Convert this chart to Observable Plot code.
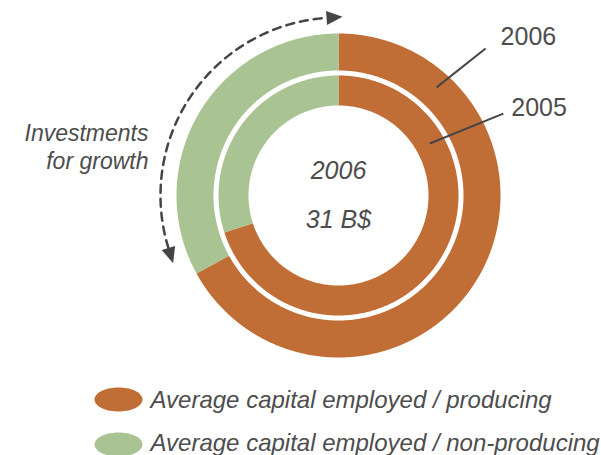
<!DOCTYPE html>
<html><head><meta charset="utf-8">
<script src="https://cdn.jsdelivr.net/npm/d3@7"></script>
<script src="https://cdn.jsdelivr.net/npm/@observablehq/plot@0.6"></script>
<style>body{margin:0;background:#fff;}</style>
</head><body><div id="chart"></div>
<script>
// ---- data ----
const years = ["2005", "2006"];
const producing = [70, 67];       // % of average capital employed
const nonProducing = [30, 33];    // %
const categories = ["Average capital employed / producing", "Average capital employed / non-producing"];
const colors = ["#C16E36", "#A9C392"];
const centerLines = ["2006", "31 B$"];
const growthLines = ["Investments", "for growth"];

// ---- layout ----
const W = 601, H = 455, cx = 338, cy = 195;
const ringRadii = {"2005": [90, 120], "2006": [125, 162]};
const rad = d => d * Math.PI / 180;
const polar = (r, t) => [cx + r * Math.sin(t), cy - r * Math.cos(t)];
const textColor = "#4d4d4d", lineColor = "#454545";

// ring slices as polygons
const ringPts = [];
years.forEach((yr, i) => {
  const [r0, r1] = ringRadii[yr];
  const shares = [producing[i], nonProducing[i]];
  const total = d3.sum(shares);
  let a = 0;
  shares.forEach((s, j) => {
    const a0 = a, a1 = a + s / total * 2 * Math.PI; a = a1;
    const n = Math.max(2, Math.ceil((a1 - a0) / rad(0.5)));
    const key = yr + "-" + j;
    for (let k = 0; k <= n; k++) { const [x, y] = polar(r1, a0 + (a1 - a0) * k / n); ringPts.push({key, cat: categories[j], x, y}); }
    for (let k = n; k >= 0; k--) { const [x, y] = polar(r0, a0 + (a1 - a0) * k / n); ringPts.push({key, cat: categories[j], x, y}); }
  });
});

// dashed "investments for growth" arc with arrowheads at both ends
const arcR = 178, headLen = 16, headHalf = 7;
const tipBottom = rad(247.7), tipTop = rad(361.3);
const baseBottom = tipBottom + headLen / arcR, baseTop = tipTop - headLen / arcR;
const arcPts = d3.range(0, 201).map(k => {
  const t = baseBottom + (baseTop - baseBottom) * k / 200;
  const [x, y] = polar(arcR, t); return {x, y};
});
function head(tipT, baseT, key) {
  const [bx, by] = polar(arcR, baseT);
  const dir = Math.sign(tipT - baseT);
  const tx = Math.cos(baseT) * dir, ty = Math.sin(baseT) * dir;
  const tip = [bx + tx * headLen, by + ty * headLen];
  const nx = -ty, ny = tx;
  return [tip, [bx + nx * headHalf, by + ny * headHalf], [bx - nx * headHalf, by - ny * headHalf]]
    .map(([x, y]) => ({key, x, y}));
}
const headPts = [...head(tipBottom, baseBottom, "b"), ...head(tipTop, baseTop, "t")];

// leader lines to year labels
const leaderLayout = {
  "2006": {a0: 42.2, r0: 146, a1: 45, r1: 208, dx: 15, dy: -3},
  "2005": {a0: 60.3, r0: 105, a1: 63.6, r1: 184, dx: 8, dy: 2}
};
const leaders = years.map(yr => {
  const L = leaderLayout[yr];
  const [x1, y1] = polar(L.r0, rad(L.a0));
  const [x2, y2] = polar(L.r1, rad(L.a1));
  return {yr, x1, y1, x2, y2, tx: x2 + L.dx, ty: y2 + L.dy};
});

// legend swatches (ellipses)
const legX = 118, legY0 = 399, legStep = 45, legRx = 24, legRy = 12;
const legPts = [];
categories.forEach((c, i) => {
  for (let k = 0; k <= 72; k++) {
    const t = k / 72 * 2 * Math.PI;
    legPts.push({cat: c, x: legX + legRx * Math.cos(t), y: legY0 + legStep * i + legRy * Math.sin(t)});
  }
});

const font = "'Liberation Sans', Arial, sans-serif";
const chart = Plot.plot({
  width: W, height: H, margin: 0,
  x: {domain: [0, W], range: [0, W], axis: null},
  y: {domain: [0, H], range: [0, H], axis: null},
  color: {domain: categories, range: colors},
  style: {fontFamily: font, background: "#fff"},
  marks: [
    Plot.line(ringPts, {x: "x", y: "y", z: "key", fill: "cat", stroke: "none"}),
    Plot.line(arcPts, {x: "x", y: "y", stroke: lineColor, strokeWidth: 2.5, strokeDasharray: "8,6"}),
    Plot.line(headPts, {x: "x", y: "y", z: "key", fill: lineColor, stroke: "none"}),
    Plot.link(leaders, {x1: "x1", y1: "y1", x2: "x2", y2: "y2", stroke: lineColor, strokeWidth: 2}),
    Plot.text(leaders, {x: "tx", y: "ty", text: "yr", textAnchor: "start", lineAnchor: "bottom", fontSize: 25, fill: textColor}),
    Plot.text(centerLines, {x: () => cx, y: (d, i) => 178 + 49 * i, text: d => d, textAnchor: "middle", lineAnchor: "bottom", fontSize: 25, fontStyle: "italic", fill: textColor}),
    Plot.text(growthLines, {x: () => 148, y: (d, i) => 140 + 28 * i, text: d => d, textAnchor: "end", lineAnchor: "bottom", fontSize: 23, fontStyle: "italic", fill: textColor}),
    Plot.line(legPts, {x: "x", y: "y", z: "cat", fill: "cat", stroke: "none"}),
    Plot.text(categories, {x: () => 150, y: (d, i) => 407 + 43 * i, text: d => d, textAnchor: "start", lineAnchor: "bottom", fontSize: 24, fontStyle: "italic", fill: textColor})
  ]
});
document.getElementById("chart").appendChild(chart);
</script>
</body></html>
